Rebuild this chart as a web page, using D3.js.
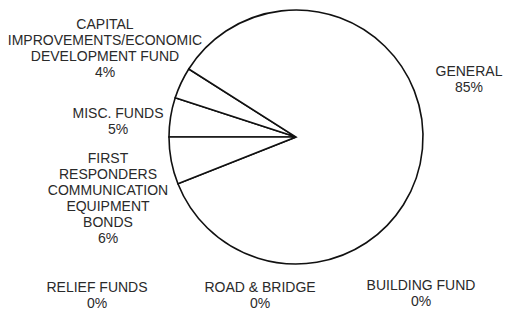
<!DOCTYPE html>
<html>
<head>
<meta charset="utf-8">
<script src="https://cdn.jsdelivr.net/npm/d3@7"></script>
<style>
	body { margin: 0; background: #fff; }
	svg { display: block; }
	.lbl { font-family: "Liberation Sans", Arial, sans-serif; font-size: 14px; fill: #2a2a2a; }
</style>
</head>
<body>
<div id="chart"></div>
<script>
// slices, in drawing order (clockwise from 9 o'clock)
var categories = [
	"RELIEF FUNDS",
	"ROAD & BRIDGE",
	"BUILDING FUND",
	"MISC. FUNDS",
	"CAPITAL IMPROVEMENTS/ECONOMIC DEVELOPMENT FUND",
	"GENERAL",
	"FIRST RESPONDERS COMMUNICATION EQUIPMENT BONDS"
];
var values = [0, 0, 0, 5, 4, 85, 6];

// how each label breaks into lines
var labelLines = [
	["RELIEF FUNDS"],
	["ROAD & BRIDGE"],
	["BUILDING FUND"],
	["MISC. FUNDS"],
	["CAPITAL", "IMPROVEMENTS/ECONOMIC", "DEVELOPMENT FUND"],
	["GENERAL"],
	["FIRST", "RESPONDERS", "COMMUNICATION", "EQUIPMENT", "BONDS"]
];

var width = 505,
	height = 309,
	cx = 296,
	cy = 137,
	radius = 127,
	lineH = 16;

// label anchors (first baseline), placed by hand like the original
var labelPos = [
	[97, 292],
	[260, 292],
	[421, 290],
	[118, 118],
	[105, 29],
	[469, 76],
	[108, 163]
];

var data = categories.map(function(c, i) {
	return { id: c, count: values[i], lines: labelLines[i], pos: labelPos[i] };
});

var total = d3.sum(values);

var svg = d3.select('#chart').append('svg')
	.attr('width', width)
	.attr('height', height);

svg.append('rect')
	.attr('width', width)
	.attr('height', height)
	.attr('fill', '#fff');

var pie = d3.pie()
	.sort(null)
	.startAngle(-Math.PI / 2)
	.endAngle(3 * Math.PI / 2)
	.value(function(d) { return d.count; });

var arc = d3.arc()
	.innerRadius(0)
	.outerRadius(radius);

var g = svg.append('g')
	.attr('transform', 'translate(' + cx + ',' + cy + ')');

g.selectAll('path')
	.data(pie(data))
	.enter().append('path')
	.attr('d', arc)
	.attr('fill', '#fff')
	.attr('stroke', '#111')
	.attr('stroke-width', 1.6)
	.attr('stroke-linejoin', 'miter');

var labels = svg.selectAll('.lbl')
	.data(data)
	.enter().append('text')
	.attr('class', 'lbl')
	.attr('text-anchor', 'middle');

labels.each(function(d) {
	var t = d3.select(this);
	var pct = Math.round(100 * d.count / total) + '%';
	d.lines.concat([pct]).forEach(function(s, k) {
		t.append('tspan')
			.attr('x', d.pos[0])
			.attr('y', d.pos[1] + k * lineH)
			.text(s);
	});
});
</script>
</body>
</html>
